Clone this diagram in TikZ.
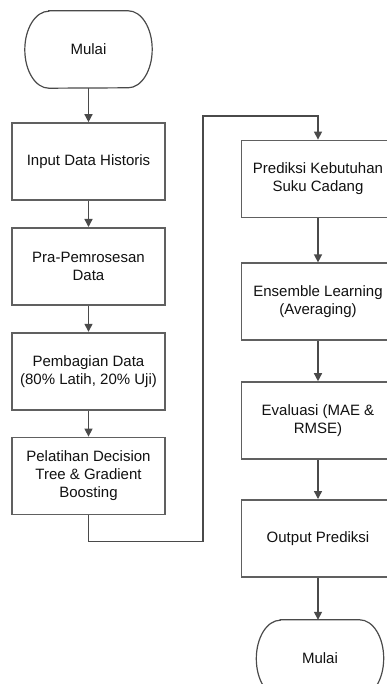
\documentclass[tikz,border=0pt]{standalone}
\usepackage{fontspec}
\setmainfont{Liberation Sans}
\usepackage{tikz}
\usetikzlibrary{calc,positioning,arrows.meta}
\definecolor{edgegray}{HTML}{4A4A4A}
\definecolor{boxgray}{HTML}{606060}
\definecolor{txt}{HTML}{111111}
\tikzset{
  flow/.style={-{Triangle[length=8pt, width=8pt]}, line width=1.4pt, draw=edgegray},
  box/.style={draw=boxgray, line width=1.8pt, align=center, text=txt, inner sep=3pt,
    font=\fontsize{15pt}{18pt}\selectfont, minimum width=153pt, minimum height=77pt},
  term/.style={align=center, text=txt, inner sep=0pt,
    font=\fontsize{15pt}{18pt}\selectfont, minimum width=127pt, minimum height=77pt},
  termline/.style={draw=edgegray, line width=1.2pt}
}
\begin{document}
\begin{tikzpicture}[x=1pt, y=1pt, node distance=26pt]
  \fill[white] (0,0) rectangle (387,-684);
  \useasboundingbox (0,0) rectangle (387,-684);
  \clip (0,0) rectangle (387,-684);

  % kolom kiri
  \node[term] (mulai) at (88.5,-49.5) {Mulai};
  \node[box, below=34pt of mulai] (input) {Input Data Historis};
  \node[box, below=of input] (praproses) {Pra-Pemrosesan\\Data};
  \node[box, below=of praproses] (pembagian) {Pembagian Data\\(80\% Latih, 20\% Uji)};
  \node[box, below=of pembagian] (pelatihan) {Pelatihan Decision\\Tree \& Gradient\\Boosting};

  % kolom kanan
  \node[box] (prediksi) at (318,-179) {Prediksi Kebutuhan\\Suku Cadang};
  \node[box, below=44pt of prediksi] (ensemble) {Ensemble Learning\\(Averaging)};
  \node[box, below=40pt of ensemble] (evaluasi) {Evaluasi (MAE \&\\RMSE)};
  \node[box, below=39pt of evaluasi] (output) {Output Prediksi};
  \node[term, below=42pt of output, xshift=2pt] (akhir) {Mulai};

  \foreach \t in {mulai,akhir}
    \draw[termline] ([xshift=24pt]\t.north west) -- ([xshift=-24pt]\t.north east)
      arc[start angle=90, end angle=-90, x radius=24pt, y radius=38.5pt]
      -- ([xshift=24pt]\t.south west)
      arc[start angle=270, end angle=90, x radius=24pt, y radius=38.5pt] -- cycle;

  \coordinate (turun) at ($(pelatihan.south)+(0,-26pt)$);
  \coordinate (naik) at (203,-116);

  \draw[flow] (mulai) -- (input);
  \draw[flow] (input) -- (praproses);
  \draw[flow] (praproses) -- (pembagian);
  \draw[flow] (pembagian) -- (pelatihan);
  \draw[flow] (pelatihan.south) -- (turun) -| (naik) -| (prediksi.north);
  \draw[flow] (prediksi) -- (ensemble);
  \draw[flow] (ensemble) -- (evaluasi);
  \draw[flow] (evaluasi) -- (output);
  \draw[flow] (output.south) -- (output.south |- akhir.north);
\end{tikzpicture}
\end{document}
